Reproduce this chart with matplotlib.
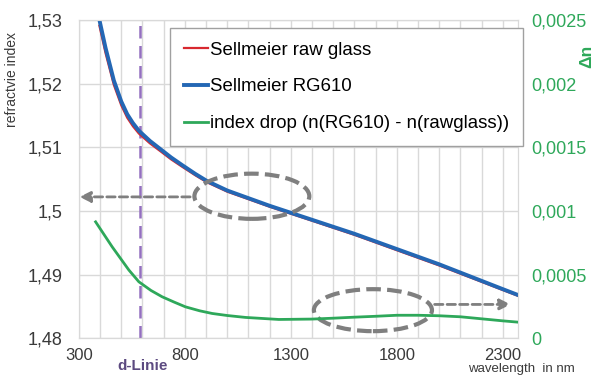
import numpy as np
import matplotlib.pyplot as plt
from matplotlib.patches import Ellipse

plt.rcParams['font.family'] = ['Liberation Sans', 'DejaVu Sans']

# wavelength in nm
wl = [397, 426, 465, 500, 528, 555, 583, 635, 685, 735, 787, 850, 904, 1000,
      1100, 1200, 1300, 1400, 1500, 1600, 1700, 1800, 1900, 2000, 2100, 2200,
      2300, 2370]
# refractive index, RG610
n_rg610 = [1.5300, 1.5256, 1.5205, 1.5172, 1.5152, 1.5138, 1.5126, 1.5110,
           1.5097, 1.5084, 1.5072, 1.5058, 1.5047, 1.5032, 1.5020, 1.5008,
           1.4997, 1.4986, 1.4975, 1.4964, 1.4952, 1.4940, 1.4928, 1.4916,
           1.4903, 1.4890, 1.4877, 1.4868]
# refractive index, raw glass
n_raw = [1.52910, 1.52479, 1.51981, 1.51660, 1.51465, 1.51330, 1.51216,
         1.51062, 1.50937, 1.50810, 1.50694, 1.50558, 1.50450, 1.50302,
         1.50184, 1.50065, 1.49955, 1.49845, 1.49734, 1.49623, 1.49503,
         1.49382, 1.49262, 1.49142, 1.49013, 1.48885, 1.48756, 1.48667]
# index drop
wl_dn = [379, 457, 536, 583, 640, 693, 750, 803, 870, 929, 1000, 1086, 1243,
         1400, 1500, 1600, 1700, 1800, 1900, 2000, 2100, 2200, 2300, 2370]
dn = [0.000914, 0.000718, 0.000535, 0.000443, 0.000375, 0.000325, 0.000283,
      0.000246, 0.000215, 0.000194, 0.000178, 0.000163, 0.000147, 0.000150,
      0.000157, 0.000165, 0.000172, 0.000180, 0.000180, 0.000176, 0.000168,
      0.000152, 0.000136, 0.000126]

d_line = 588
x_ticks = [300, 800, 1300, 1800, 2300]
y_ticks = [1.48, 1.49, 1.50, 1.51, 1.52, 1.53]
y_labels = ['1,48', '1,49', '1,5', '1,51', '1,52', '1,53']
dn_ticks = [0, 0.0005, 0.001, 0.0015, 0.002, 0.0025]
dn_labels = ['0', '0,0005', '0,001', '0,0015', '0,002', '0,0025']

grid_c = '#d9d9d9'
green = '#2ea85a'
tick_c = '#3a3a3a'

fig = plt.figure(figsize=(6.02, 3.77), dpi=100)
ax = fig.add_axes([0.131, 0.103, 0.729, 0.844])
ax2 = ax.twinx()

ax.set_xlim(300, 2370)
ax.set_ylim(1.48, 1.53)
ax2.set_ylim(0, 0.0025)

ax.set_xticks(x_ticks)
ax.set_xticks(np.arange(300, 2370, 100), minor=True)
ax.set_yticks(y_ticks)
ax.set_yticklabels(y_labels)
ax2.set_yticks(dn_ticks)
ax2.set_yticklabels(dn_labels)
ax.grid(True, which='both', axis='x', color=grid_c, lw=1)
ax.grid(True, which='major', axis='y', color=grid_c, lw=1)
ax.tick_params(which='both', length=0, colors=tick_c)
ax.tick_params(axis='y', labelsize=13, pad=12)
ax.tick_params(axis='x', labelsize=12, pad=7)
ax2.tick_params(length=0, labelsize=13, colors=green, pad=10)
for a in (ax, ax2):
    for s in a.spines.values():
        s.set_color(grid_c)

ax.axvline(d_line, color='#9470c0', lw=1.8, ls=(0, (5, 3)), zorder=2)

l1, = ax.plot(wl, n_raw, color='#d8282f', lw=1.6, zorder=3,
              label='Sellmeier raw glass')
l2, = ax.plot(wl, n_rg610, color='#2467b4', lw=2.8, zorder=4,
              label='Sellmeier RG610')
l3, = ax2.plot(wl_dn, dn, color=green, lw=2, zorder=3,
               label='index drop (n(RG610) - n(rawglass))')

# highlight ellipses and arrows
gray = '#7f7f7f'
ax.add_patch(Ellipse((1116, 1.5023), 542, 0.0071, fill=False, ec=gray,
                     lw=3, ls=(0, (3.5, 1.5)), zorder=5))
ax.annotate('', xy=(290, 1.5022), xytext=(838, 1.5022),
            arrowprops=dict(arrowstyle='-|>', color=gray, lw=2,
                            ls=(0, (3, 1.5)), mutation_scale=16),
            annotation_clip=False, zorder=5)
ax.add_patch(Ellipse((1687, 1.4844), 557, 0.0066, fill=False, ec=gray,
                     lw=3, ls=(0, (3.5, 1.5)), zorder=5))
ax.annotate('', xy=(2350, 1.4853), xytext=(1965, 1.4853),
            arrowprops=dict(arrowstyle='-|>', color=gray, lw=2,
                            ls=(0, (3, 1.5)), mutation_scale=16),
            annotation_clip=False, zorder=5)

leg = fig.legend(handles=[l1, l2, l3], loc='upper left',
                 bbox_to_anchor=(0.282, 0.926), fontsize=13.4,
                 handlelength=1.3, handletextpad=0.1, labelspacing=1.05,
                 borderpad=0.75, borderaxespad=0, fancybox=False,
                 framealpha=1, edgecolor='#a0a0a0')
leg.get_frame().set_linewidth(1)

fig.text(0.02, 0.79, 'refractvie index', rotation=90, ha='center',
         va='center', fontsize=10, color=tick_c)
fig.text(0.975, 0.85, 'Δn', rotation=90, ha='center', va='center',
         fontsize=12.5, color=green, fontweight='bold')
fig.text(0.866, 0.004, 'wavelength  in nm', ha='center', va='bottom',
         fontsize=9.5, color=tick_c)
fig.text(0.236, 0.01, 'd-Linie', ha='center', va='bottom', fontsize=11,
         color='#5c4a80', fontweight='bold')

fig.savefig('out.png', dpi=100)
